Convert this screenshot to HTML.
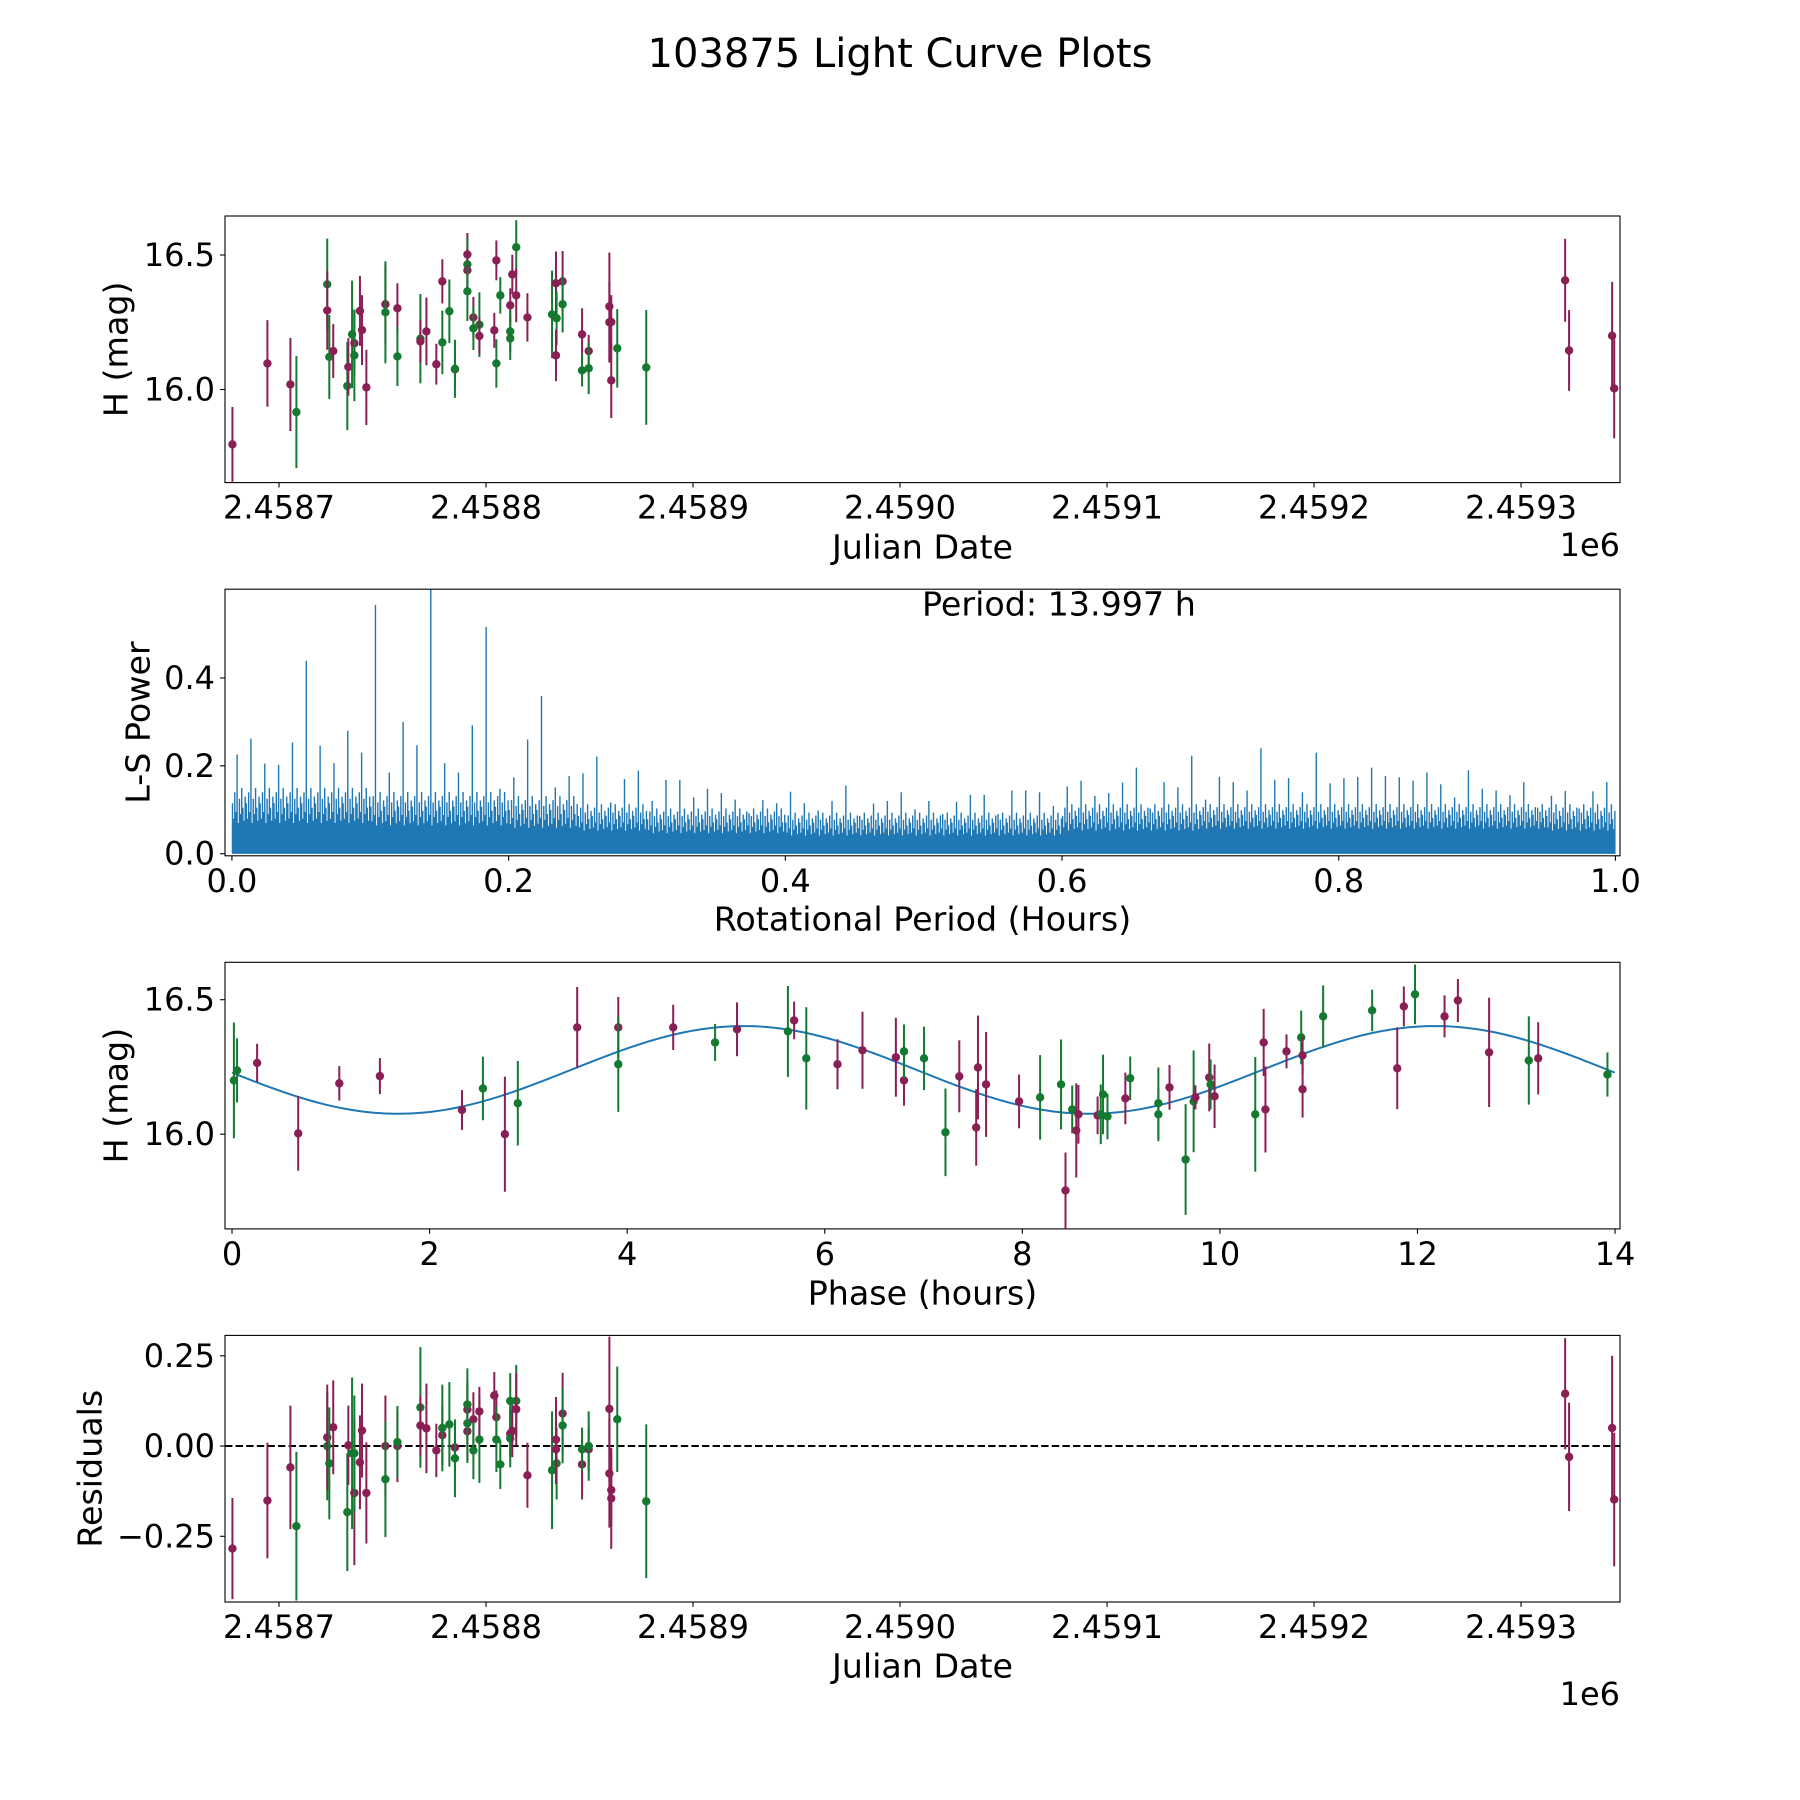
<!DOCTYPE html>
<html><head><meta charset="utf-8"><style>
html,body{margin:0;padding:0;background:#fff;}
svg{display:block;font-family:"DejaVu Sans","Liberation Sans",sans-serif;}
</style></head><body>
<svg id="fig" width="1800" height="1800" viewBox="0 0 1800 1800" xmlns="http://www.w3.org/2000/svg">
<rect width="1800" height="1800" fill="#fff"/>
<text x="900" y="54" font-size="40" text-anchor="middle" dominant-baseline="central">103875 Light Curve Plots</text>
</svg>
<script>
// ---- Light curve data (JD - 2458700) ----
const lcTime=[-22.5,-5.6,5.5,8.4,23.3,23.3,24.3,26.2,33.0,33.5,35.3,36.4,36.4,39.1,40.1,42.2,51.4,51.4,57.2,57.2,68.3,68.3,71.2,76.0,78.9,78.9,82.3,85.0,85.0,91.0,91.0,91.0,91.0,93.9,93.9,96.8,96.8,104.0,105.0,105.0,106.9,111.7,111.7,111.7,112.7,114.6,114.6,120.0,131.9,133.8,134.1,133.8,137.0,137.0,146.4,146.4,149.6,149.6,159.6,159.6,160.5,160.5,163.4,177.4,621.3,623.2,644,645];
const lcMag=[15.796,16.097,16.019,15.916,16.391,16.294,16.121,16.143,16.013,16.084,16.205,16.172,16.127,16.292,16.221,16.008,16.317,16.287,16.302,16.123,16.189,16.179,16.216,16.094,16.402,16.175,16.291,16.075,16.077,16.502,16.465,16.443,16.365,16.268,16.227,16.241,16.199,16.22,16.48,16.097,16.35,16.313,16.216,16.19,16.428,16.529,16.35,16.268,16.279,16.395,16.265,16.127,16.402,16.317,16.205,16.071,16.143,16.079,16.309,16.25,16.251,16.034,16.153,16.082,16.406,16.145,16.20,16.004];
const lcErr=[.139,.161,.173,.208,.17,.146,.156,.10,.164,.107,.2,.12,.17,.13,.13,.14,.145,.19,.093,.11,.166,.08,.126,.076,.082,.118,.118,.07,.108,.08,.1,.08,.11,.076,.08,.12,.068,.065,.074,.09,.068,.063,.077,.08,.073,.1,.1,.09,.163,.118,.1,.096,.113,.105,.097,.06,.06,.096,.2,.15,.1,.14,.146,.213,.154,.15,.2,.185];
const lcBand=["P","P","P","G","G","P","G","P","G","P","G","P","G","P","P","P","P","G","P","G","G","P","P","P","P","G","G","P","G","P","G","P","G","P","G","G","P","P","P","G","G","P","G","G","P","G","P","P","G","P","G","P","P","G","P","G","P","G","P","P","P","P","G","G","P","P","P","P"];
// ---- Residuals ----
const resVal=[-.284,-.151,-.059,-.222,0,.024,-.048,.052,-.183,.002,-.02,-.13,-.02,-.045,.043,-.13,0,-.092,0,.011,.107,.057,.049,-.012,.03,.05,.06,-.004,-.034,.101,.115,.041,.063,.074,-.012,.018,.096,.14,.08,.018,-.051,.034,.125,.021,.042,.125,.102,-.081,-.067,.018,-.048,-.009,.09,.057,-.051,-.009,-.009,0,.103,-.076,-.122,-.145,.074,-.153,.145,-.03,.05,-.148];
const resErr=[.14,.16,.171,.206,.15,.146,.155,.13,.163,.11,.21,.2,.16,.13,.13,.14,.14,.16,.1,.1,.167,.083,.124,.074,.083,.12,.117,.07,.108,.08,.1,.08,.11,.075,.08,.12,.068,.065,.074,.09,.068,.063,.077,.08,.073,.1,.1,.09,.163,.118,.1,.096,.113,.105,.097,.06,.06,.096,.2,.15,.1,.14,.146,.213,.154,.15,.2,.185];
// ---- Phased data ----
const phHour=[0.019,0.051,0.254,0.67,1.086,1.497,2.328,2.54,2.762,2.893,3.494,3.91,3.91,4.466,4.89,5.112,5.627,5.69,5.813,6.129,6.382,6.72,6.802,6.802,7.005,7.222,7.362,7.551,7.533,7.633,7.967,8.18,8.392,8.437,8.505,8.546,8.568,8.762,8.794,8.817,8.862,9.043,9.092,9.377,9.377,9.49,9.653,9.734,9.752,9.892,9.906,9.946,10.358,10.443,10.461,10.674,10.823,10.837,10.837,11.045,11.541,11.795,11.862,11.975,12.274,12.409,12.725,13.127,13.222,13.923];
const phMag=[16.20,16.237,16.265,16.003,16.189,16.216,16.09,16.17,16.0,16.115,16.397,16.397,16.26,16.397,16.341,16.39,16.382,16.423,16.282,16.26,16.312,16.286,16.2,16.308,16.282,16.007,16.215,16.248,16.025,16.185,16.122,16.137,16.185,15.791,16.092,16.014,16.074,16.07,16.074,16.148,16.066,16.133,16.208,16.115,16.074,16.174,15.906,16.122,16.137,16.211,16.185,16.141,16.074,16.341,16.092,16.308,16.36,16.293,16.167,16.438,16.46,16.245,16.475,16.52,16.438,16.497,16.304,16.274,16.282,16.222];
const phErr=[.215,.119,.071,.139,.064,.067,.074,.118,.214,.157,.15,.113,.177,.084,.069,.1,.169,.07,.19,.093,.143,.147,.094,.1,.118,.163,.134,.193,.142,.195,.1,.157,.167,.141,.089,.175,.109,.07,.111,.148,.085,.096,.081,.133,.1,.083,.206,.189,.045,.126,.093,.118,.213,.125,.16,.063,.1,.07,.105,.115,.077,.152,.074,.111,.078,.08,.203,.164,.134,.082];
const phBand=["G","G","P","P","P","P","P","G","P","G","P","P","G","P","G","P","G","P","G","P","P","P","P","G","G","G","P","P","P","P","P","G","G","P","G","P","P","P","G","G","G","P","G","G","G","P","G","G","P","P","G","P","G","P","P","P","G","P","P","G","G","P","P","G","P","P","P","G","P","G"];
const fitMean=16.239, fitAmp=0.163, fitPeriod=13.997, fitPhase0=3.43;
// ---- Periodogram ----
const lsPeak=[.226,.262,.205,.202,.253,.439,.246,.206,.28,.23,.566,.185,.30,.247,.61,.206,.185,.292,.516,.148,.174,.26,.359,.151,.177,.183,.221,.117,.17,.189,.12,.168,.168,.128,.148,.138,.123,.092,.122,.115,.141,.115,.098,.12,.155,.086,.114,.12,.14,.101,.12,.09,.118,.134,.134,.09,.144,.144,.14,.109,.153,.166,.132,.138,.162,.196,.103,.163,.151,.223,.123,.175,.163,.144,.24,.168,.172,.14,.23,.16,.172,.175,.196,.177,.174,.166,.185,.158,.128,.19,.148,.144,.133,.163,.105,.132,.143,.103,.142,.163];
const lsDense=[.16,.16,.15,.15,.14,.12,.11,.11,.10,.10,.10,.10,.12,.12,.12,.12,.12,.12,.12,.12];
const lsSolid=[.06,.06,.055,.055,.05,.045,.04,.04,.035,.035,.035,.035,.045,.045,.05,.05,.05,.05,.05,.045];
const lsPeriodLabel="Period: 13.997 h";

const NS="http://www.w3.org/2000/svg";
const svg=document.getElementById('fig');
const PURPLE="#8a1f55", GREEN="#137a30", BLUE="#1f77b4";
const L=225,R=1620,H=266.6;
const tops=[216,589.2,962.3,1335.4];
const TF=32;
function mk(tag,attrs,parent){const e=document.createElementNS(NS,tag);for(const k in attrs)e.setAttribute(k,attrs[k]);(parent||svg).appendChild(e);return e;}
function scale(d0,d1,p0,p1){return v=>p0+(v-d0)/(d1-d0)*(p1-p0);}

function axes(i,name,xlim,ylim){
  const g=mk('g',{});
  
  
  const top=tops[i],bot=top+H;
  const cp=mk('clipPath',{id:'clip'+i},g);
  mk('rect',{x:L,y:top,width:R-L,height:H},cp);
  const plot=mk('g',{'clip-path':'url(#clip'+i+')'},g);
  
  
  return {g,plot,top,bot,x:scale(xlim[0],xlim[1],L,R),y:scale(ylim[0],ylim[1],bot,top)};
}
function frame(a){
  const r=mk('rect',{x:L,y:a.top,width:R-L,height:H,fill:'none',stroke:'#000','stroke-width':1.1},a.g);
  
  
}
function xticks(a,vals,labels){
  vals.forEach((v,k)=>{const px=a.x(v);
    const t=mk('line',{x1:px,x2:px,y1:a.bot,y2:a.bot+4.9,stroke:'#000','stroke-width':1.1},a.g);
    
    
    const tx=mk('text',{x:px,y:a.bot+25,'font-size':TF,'text-anchor':'middle','dominant-baseline':'central'},a.g);
    tx.textContent=labels[k];
    
    
  });
}
function yticks(a,vals,labels){
  vals.forEach((v,k)=>{const py=a.y(v);
    const t=mk('line',{x1:L-4.9,x2:L,y1:py,y2:py,stroke:'#000','stroke-width':1.1},a.g);
    
    
    const tx=mk('text',{x:L-10,y:py,'font-size':TF,'text-anchor':'end','dominant-baseline':'central'},a.g);
    tx.textContent=labels[k];
    
    
  });
}
function xlabel(a,txt,y){const t=mk('text',{x:(L+R)/2,y:y,'font-size':33.3,'text-anchor':'middle','dominant-baseline':'central'},a.g);t.textContent=txt;
  
  }
function ylabel(a,txt,x){const cy=a.top+H/2;const t=mk('text',{x:x,y:cy,'font-size':33.3,'text-anchor':'middle','dominant-baseline':'central',transform:'rotate(-90 '+x+' '+cy+')'},a.g);t.textContent=txt;
  
  }
function offset(a,y){const t=mk('text',{x:R,y:y,'font-size':TF,'text-anchor':'end','dominant-baseline':'central'},a.g);t.textContent='1e6';
  
  }
function errpoints(a,xs,ys,es,bands){
  xs.forEach((xv,k)=>{const c=bands[k]==='P'?PURPLE:GREEN;const px=a.x(xv);
    const ln=mk('line',{x1:px,x2:px,y1:a.y(ys[k]-es[k]),y2:a.y(ys[k]+es[k]),stroke:c,'stroke-width':2},a.plot);
    
    
    const d=mk('circle',{cx:px,cy:a.y(ys[k]),r:4.2,fill:c},a.plot);
    
    
  });
}
const jdTicks=[0,100,200,300,400,500,600], jdLabels=['2.4587','2.4588','2.4589','2.4590','2.4591','2.4592','2.4593'];

// Panel 1
const a1=axes(0,'light-curve-panel',[-26.09,647.8],[15.654,16.645]);
errpoints(a1,lcTime,lcMag,lcErr,lcBand);
frame(a1);xticks(a1,jdTicks,jdLabels);yticks(a1,[16.0,16.5],['16.0','16.5']);
xlabel(a1,'Julian Date',547);ylabel(a1,'H (mag)',116);offset(a1,545);

// Panel 2 periodogram
const a2=axes(1,'periodogram-panel',[-0.005,1.0033],[-0.0047,0.602]);
{let d='M'+a2.x(0)+' '+a2.y(0);
 lsSolid.forEach((v,k)=>{d+=' L'+a2.x(k*0.05)+' '+a2.y(v)+' L'+a2.x(k*0.05+0.05)+' '+a2.y(v);});
 d+=' L'+a2.x(1)+' '+a2.y(0)+' Z';
 const p=mk('path',{d:d,fill:BLUE},a2.plot);
 
 
 // sub-spike relative levels (styling pattern between solid, dense and peak levels)
 const mixW=[0.55,0.2,0.8,0.35,1.0,0.1,0.65,0.3,0.9,0.45,0.15,0.7];
 let dd='';
 lsPeak.forEach((pk,k)=>{const b=Math.floor(k/5);const dn=lsDense[b],so=lsSolid[b];
   const x0=k*0.01;
   mixW.forEach((w,j)=>{const xx=x0+(j+0.5)*0.01/mixW.length;
     const h=(j===4)?pk:so+(dn-so)*w;
     const px=a2.x(xx);dd+='M'+px+' '+a2.y(0)+' L'+px+' '+a2.y(h)+' ';});
 });
 const sp=mk('path',{d:dd,stroke:BLUE,'stroke-width':1.4,fill:'none'},a2.plot);
 
 
}
frame(a2);xticks(a2,[0,0.2,0.4,0.6,0.8,1.0],['0.0','0.2','0.4','0.6','0.8','1.0']);yticks(a2,[0,0.2,0.4],['0.0','0.2','0.4']);
xlabel(a2,'Rotational Period (Hours)',919);ylabel(a2,'L-S Power',138);
{const t=mk('text',{x:922,y:604,'font-size':33.3,'dominant-baseline':'central'},a2.g);t.textContent=lsPeriodLabel;
 
 }

// Panel 3 phased
const a3=axes(2,'phased-light-curve-panel',[-0.071,14.05],[15.648,16.639]);
{let d='';for(let k=0;k<=280;k++){const p=k*fitPeriod/280;const m=fitMean+fitAmp*Math.sin(4*Math.PI*(p-fitPhase0)/fitPeriod);d+=(k?' L':'M')+a3.x(p)+' '+a3.y(m);}
 const f=mk('path',{d:d,stroke:BLUE,'stroke-width':2,fill:'none'},a3.plot);
 
 }
errpoints(a3,phHour,phMag,phErr,phBand);
frame(a3);xticks(a3,[0,2,4,6,8,10,12,14],['0','2','4','6','8','10','12','14']);yticks(a3,[16.0,16.5],['16.0','16.5']);
xlabel(a3,'Phase (hours)',1293);ylabel(a3,'H (mag)',116);

// Panel 4 residuals
const a4=axes(3,'residuals-panel',[-26.09,647.8],[-0.432,0.3065]);
{const z=mk('line',{x1:L,x2:R,y1:a4.y(0),y2:a4.y(0),stroke:'#000','stroke-width':2,'stroke-dasharray':'7.4,3.2'},a4.plot);
 
 }
errpoints(a4,lcTime,resVal,resErr,lcBand);
frame(a4);xticks(a4,jdTicks,jdLabels);yticks(a4,[-0.25,0,0.25],['\u22120.25','0.00','0.25']);
xlabel(a4,'Julian Date',1666);ylabel(a4,'Residuals',90);offset(a4,1694);
</script>
</body></html>
